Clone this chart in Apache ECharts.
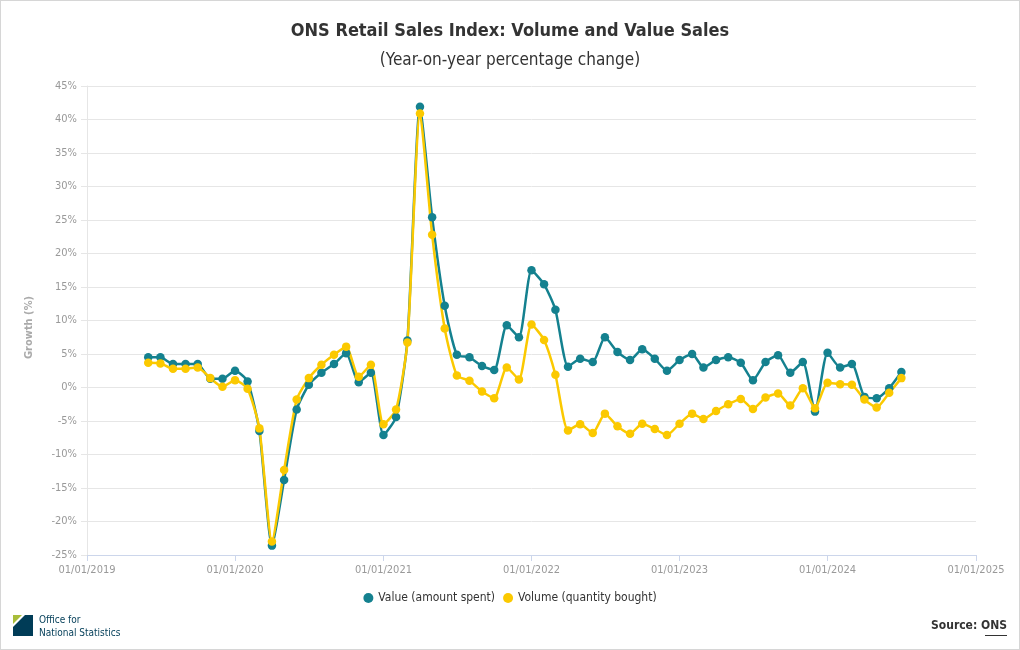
<!DOCTYPE html>
<html>
<head>
<meta charset="utf-8">
<script src="https://cdn.jsdelivr.net/npm/echarts@6/dist/echarts.min.js"></script>
<style>
html,body{margin:0;padding:0;background:#fff;}
#chart{width:1020px;height:650px;box-sizing:border-box;border:1px solid #d6d6d6;}
</style>
</head>
<body>
<div id="chart"></div>
<script>
var months = [
 '2019-06-01','2019-07-01','2019-08-01','2019-09-01','2019-10-01','2019-11-01','2019-12-01',
 '2020-01-01','2020-02-01','2020-03-01','2020-04-01','2020-05-01','2020-06-01','2020-07-01','2020-08-01','2020-09-01','2020-10-01','2020-11-01','2020-12-01',
 '2021-01-01','2021-02-01','2021-03-01','2021-04-01','2021-05-01','2021-06-01','2021-07-01','2021-08-01','2021-09-01','2021-10-01','2021-11-01','2021-12-01',
 '2022-01-01','2022-02-01','2022-03-01','2022-04-01','2022-05-01','2022-06-01','2022-07-01','2022-08-01','2022-09-01','2022-10-01','2022-11-01','2022-12-01',
 '2023-01-01','2023-02-01','2023-03-01','2023-04-01','2023-05-01','2023-06-01','2023-07-01','2023-08-01','2023-09-01','2023-10-01','2023-11-01','2023-12-01',
 '2024-01-01','2024-02-01','2024-03-01','2024-04-01','2024-05-01','2024-06-01','2024-07-01'
];
var valueSales = [
 4.5, 4.5, 3.5, 3.5, 3.5, 1.3, 1.3,
 2.5, 0.9, -6.5, -23.6, -13.8, -3.3, 0.4, 2.2, 3.5, 5.1, 0.8, 2.2,
 -7.1, -4.4, 7.0, 41.9, 25.4, 12.2, 4.9, 4.5, 3.2, 2.6, 9.3, 7.5,
 17.5, 15.4, 11.6, 3.1, 4.3, 3.8, 7.5, 5.3, 4.1, 5.7, 4.3, 2.5,
 4.1, 5.0, 3.0, 4.1, 4.5, 3.7, 1.1, 3.8, 4.8, 2.2, 3.8, -3.6,
 5.2, 3.0, 3.5, -1.4, -1.6, -0.1, 2.3
];
var volumeSales = [
 3.7, 3.6, 2.8, 2.8, 3.0, 1.4, 0.1,
 1.1, -0.2, -6.1, -23.0, -12.3, -1.8, 1.4, 3.4, 4.9, 6.1, 1.6, 3.4,
 -5.5, -3.3, 6.7, 40.9, 22.8, 8.8, 1.8, 1.0, -0.6, -1.6, 3.0, 1.2,
 9.4, 7.1, 1.9, -6.4, -5.5, -6.8, -3.9, -5.8, -6.9, -5.4, -6.2, -7.1,
 -5.4, -3.9, -4.7, -3.5, -2.5, -1.7, -3.2, -1.5, -0.9, -2.7, -0.1, -3.1,
 0.7, 0.5, 0.4, -1.8, -3.0, -0.8, 1.4
];
var seriesNames = ['Value (amount spent)', 'Volume (quantity bought)'];
var yTicks = {min: -25, max: 45, interval: 5};

var FONT = "'DejaVu Sans Condensed', Roboto, sans-serif";
var TEAL = '#14818f';
var YELLOW = '#fbc900';

function pad(n){return (n<10?'0':'')+n;}
var chart = echarts.init(document.getElementById('chart'), null, {renderer:'canvas'});
var option = {
  backgroundColor: '#fff',
  animation: false,
  textStyle: {fontFamily: FONT},
  title: [{
    text: 'ONS Retail Sales Index: Volume and Value Sales',
    left: 'center', top: 16,
    textStyle: {fontFamily: FONT, fontSize: 18, fontWeight: 'bold', color: '#333'}
  },{
    text: '(Year-on-year percentage change)',
    left: 'center', top: 46,
    textStyle: {fontFamily: FONT, fontSize: 17, fontWeight: 'normal', color: '#333'}
  }],
  legend: {
    data: seriesNames,
    bottom: 40, left: 'center',
    icon: 'circle', itemWidth: 10, itemHeight: 10, itemGap: 8,
    textStyle: {fontFamily: FONT, fontSize: 12, color: '#333'}
  },
  grid: {left: 86, right: 43, top: 85, bottom: 94, containLabel: false},
  xAxis: {
    type: 'time',
    min: '2019-01-01', max: '2025-01-01',
    splitNumber: 6,
    minInterval: 365*24*3600*1000,
    axisLine: {show: true, onZero: false, lineStyle: {color: '#ccd6eb'}},
    axisTick: {show: true, length: 6, lineStyle: {color: '#ccd6eb'}},
    splitLine: {show: false},
    axisLabel: {
      color: '#999', fontSize: 11, fontFamily: FONT, margin: 10,
      showMinLabel: true, showMaxLabel: true, hideOverlap: false,
      formatter: function(v){var d=new Date(v);return pad(d.getDate())+'/'+pad(d.getMonth()+1)+'/'+d.getFullYear();}
    }
  },
  yAxis: {
    type: 'value',
    min: yTicks.min, max: yTicks.max, interval: yTicks.interval,
    name: 'Growth (%)', nameLocation: 'middle', nameGap: 52, nameRotate: 90,
    nameTextStyle: {color: '#aaa', fontSize: 11, fontWeight: 'bold', fontFamily: FONT, padding: [0, 0, 0, -14]},
    axisLine: {show: true, lineStyle: {color: '#e6e6e6'}},
    axisTick: {show: true, length: 6, lineStyle: {color: '#e6e6e6'}},
    splitLine: {show: true, lineStyle: {color: '#e6e6e6', width: 1}},
    axisLabel: {color: '#999', fontSize: 11, fontFamily: FONT, margin: 10, formatter: '{value}%'}
  },
  series: [{
    name: seriesNames[0], type: 'line',
    data: months.map(function(m,i){return [m, valueSales[i]];}),
    smooth: 0.2, symbol: 'circle', symbolSize: 8.5,
    lineStyle: {color: TEAL, width: 2.5}, itemStyle: {color: TEAL}
  },{
    name: seriesNames[1], type: 'line',
    data: months.map(function(m,i){return [m, volumeSales[i]];}),
    smooth: 0.2, symbol: 'circle', symbolSize: 8.5,
    lineStyle: {color: YELLOW, width: 2.5}, itemStyle: {color: YELLOW}
  }],
  graphic: [
    {type: 'polygon', left: 12, top: 614, shape: {points: [[0,0],[9,0],[0,9]]}, style: {fill: '#a8bd3a'}},
    {type: 'polygon', left: 12, top: 614, shape: {points: [[20,0],[20,21],[0,21],[0,12],[12,0]]}, style: {fill: '#003c57'}},
    {type: 'text', left: 38, top: 613, style: {text: 'Office for\nNational Statistics', fill: '#003c57', font: '10px ' + FONT, lineHeight: 13}},
    {type: 'text', right: 12, top: 619, style: {text: 'Source: ONS', fill: '#333', font: 'bold 12px ' + FONT}},
    {type: 'rect', right: 12, top: 634, shape: {width: 22, height: 1}, style: {fill: '#333'}}
  ]
};
chart.setOption(option);
</script>
</body>
</html>
